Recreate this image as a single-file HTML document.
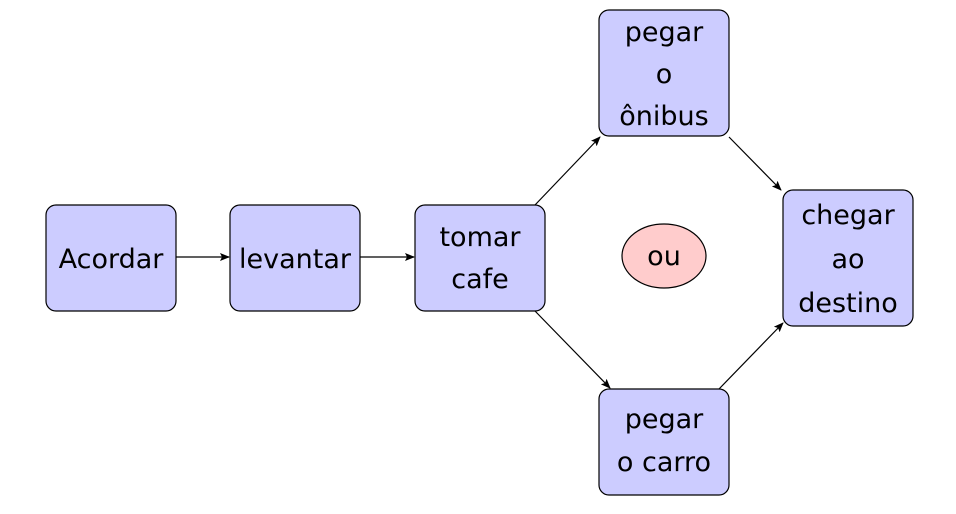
<!DOCTYPE html>
<html><head><meta charset="utf-8"><style>
body{margin:0;background:#fff;width:956px;height:509px;overflow:hidden}
svg text{font-family:"DejaVu Sans","Liberation Sans",sans-serif;font-size:27px;fill:#000;text-anchor:middle}
</style></head><body>
<svg width="956" height="509" viewBox="0 0 956 509">
<defs><marker id="a" markerWidth="10" markerHeight="8" refX="9" refY="4" orient="auto" markerUnits="userSpaceOnUse"><path d="M0,0 L10,4 L0,8 L2,4 Z" fill="#000"/></marker></defs>
<g fill="#ccccff" stroke="#000" stroke-width="1.2">
<rect x="46" y="205" width="130" height="106" rx="10"/>
<rect x="230" y="205" width="130" height="106" rx="10"/>
<rect x="415" y="205" width="130" height="106" rx="10"/>
<rect x="599" y="10" width="130" height="126" rx="10"/>
<rect x="783" y="190" width="130" height="136" rx="10"/>
<rect x="599" y="389" width="130" height="106" rx="10"/>
</g>
<ellipse cx="664" cy="256" rx="42" ry="32" fill="#ffcccc" stroke="#000" stroke-width="1.2"/>
<g stroke="#000" stroke-width="1.2" marker-end="url(#a)">
<line x1="176" y1="257" x2="229" y2="257"/>
<line x1="360" y1="257" x2="414" y2="257"/>
<line x1="535" y1="205" x2="600" y2="137"/>
<line x1="535" y1="311" x2="610" y2="388"/>
<line x1="729" y1="137" x2="781" y2="190"/>
<line x1="719" y1="389" x2="783" y2="323"/>
</g>
<text x="111" y="268">Acordar</text>
<text x="295" y="268">levantar</text>
<text x="480" y="246">tomar</text>
<text x="480" y="288">cafe</text>
<text x="664" y="41">pegar</text>
<text x="664" y="83">o</text>
<text x="664" y="125">ônibus</text>
<text x="848" y="224">chegar</text>
<text x="848" y="268">ao</text>
<text x="848" y="312">destino</text>
<text x="664" y="428">pegar</text>
<text x="664" y="471">o carro</text>
<text x="664" y="265">ou</text>
</svg>
</body></html>
